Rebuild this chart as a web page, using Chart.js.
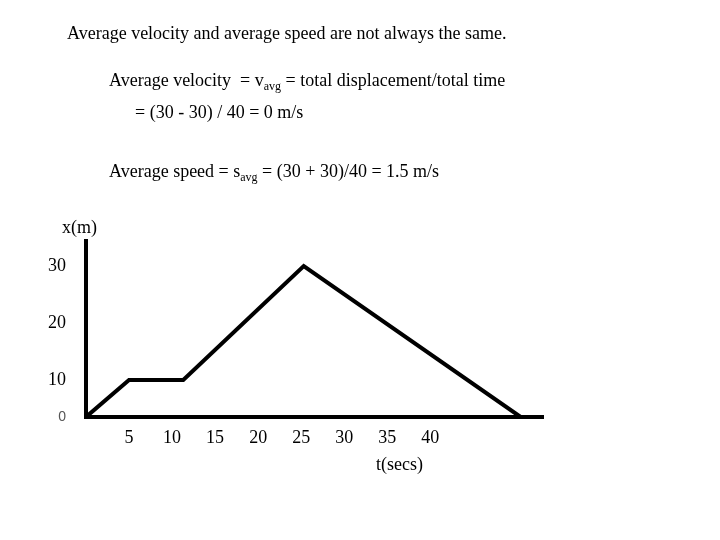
<!DOCTYPE html>
<html>
<head>
<meta charset="utf-8">
<script src="https://cdn.jsdelivr.net/npm/chart.js@4/dist/chart.umd.min.js"></script>
<style>
  html, body { margin: 0; padding: 0; background: #fff; }
  #wrap { position: relative; width: 720px; height: 540px; overflow: hidden; }
  canvas { position: absolute; left: 0; top: 0; }
  .t { position: absolute; font-family: "Liberation Serif", "Times New Roman", serif; font-size: 18px; line-height: 18px; color: #000; white-space: pre; }
  .s { font-size: 12px; vertical-align: -4px; line-height: 0; }
</style>
</head>
<body>
<div id="wrap">
  <canvas id="c" width="720" height="540"></canvas>
  <div class="t" style="left:67px; top:24px;">Average velocity and average speed are not always the same.</div>
  <div class="t" style="left:109px; top:71px;">Average velocity  = v<span class="s">avg</span> = total displacement/total time</div>
  <div class="t" style="left:135px; top:103px;">= (30 - 30) / 40 = 0 m/s</div>
  <div class="t" style="left:109px; top:162px;">Average speed = s<span class="s">avg</span> = (30 + 30)/40 = 1.5 m/s</div>
  <div class="t" style="left:62px; top:218px;">x(m)</div>
  <div class="t" style="left:376px; top:455px;">t(secs)</div>
</div>
<script>
// ---- data ----
const timeValues = [0, 5, 11.3, 25.3, 50.5];
const positionValues = [0, 10, 10, 30, 0];
const xTickValues = [5, 10, 15, 20, 25, 30, 35, 40];
const yTickValues = [0, 10, 20, 30];

// The drawn y axis is not uniform: 0..10 is compressed relative to 10..30.
function warpY(v) { return v <= 10 ? v * 0.649 : v - 3.51; }

class WarpLinearScale extends Chart.LinearScale {
  getPixelForValue(v) {
    if (v === null || v === undefined || isNaN(v)) return NaN;
    return super.getPixelForValue(warpY(v));
  }
  buildTicks() {
    return yTickValues.map(v => ({ value: v }));
  }
}
WarpLinearScale.id = 'warpLinear';
WarpLinearScale.defaults = Chart.LinearScale.defaults;
Chart.register(WarpLinearScale);

const serif = { family: '"Liberation Serif", "Times New Roman", serif', size: 18 };

new Chart(document.getElementById('c'), {
  type: 'line',
  data: {
    datasets: [{
      data: timeValues.map((t, i) => ({ x: t, y: positionValues[i] })),
      borderColor: '#000',
      borderWidth: 4,
      pointRadius: 0,
      tension: 0,
      fill: false,
      borderJoinStyle: 'miter'
    }]
  },
  options: {
    responsive: false,
    animation: false,
    devicePixelRatio: 1,
    layout: { padding: { left: 0, top: 241, right: 177, bottom: 0 } },
    plugins: { legend: { display: false }, tooltip: { enabled: false }, title: { display: false } },
    scales: {
      x: {
        type: 'linear',
        min: 0,
        max: 53.1,
        afterBuildTicks: s => { s.ticks = xTickValues.map(v => ({ value: v })); },
        afterFit: s => { s.height = 123; },
        grid: { display: false, drawTicks: false },
        border: { display: true, color: '#000', width: 4 },
        ticks: { color: '#000', font: serif, padding: 10, maxRotation: 0, autoSkip: false, callback: v => String(v) }
      },
      y: {
        type: 'warpLinear',
        min: 0,
        max: 30.88,
        afterFit: s => { s.width = 86; },
        grid: { display: false, drawTicks: false },
        border: { display: true, color: '#000', width: 4 },
        ticks: {
          autoSkip: false,
          padding: 20,
          callback: v => String(v),
          color: c => (c.tick && c.tick.value === 0) ? '#555' : '#000',
          font: c => (c.tick && c.tick.value === 0)
            ? { family: '"Liberation Sans", Arial, sans-serif', size: 14 }
            : serif
        }
      }
    }
  }
});
</script>
</body>
</html>
